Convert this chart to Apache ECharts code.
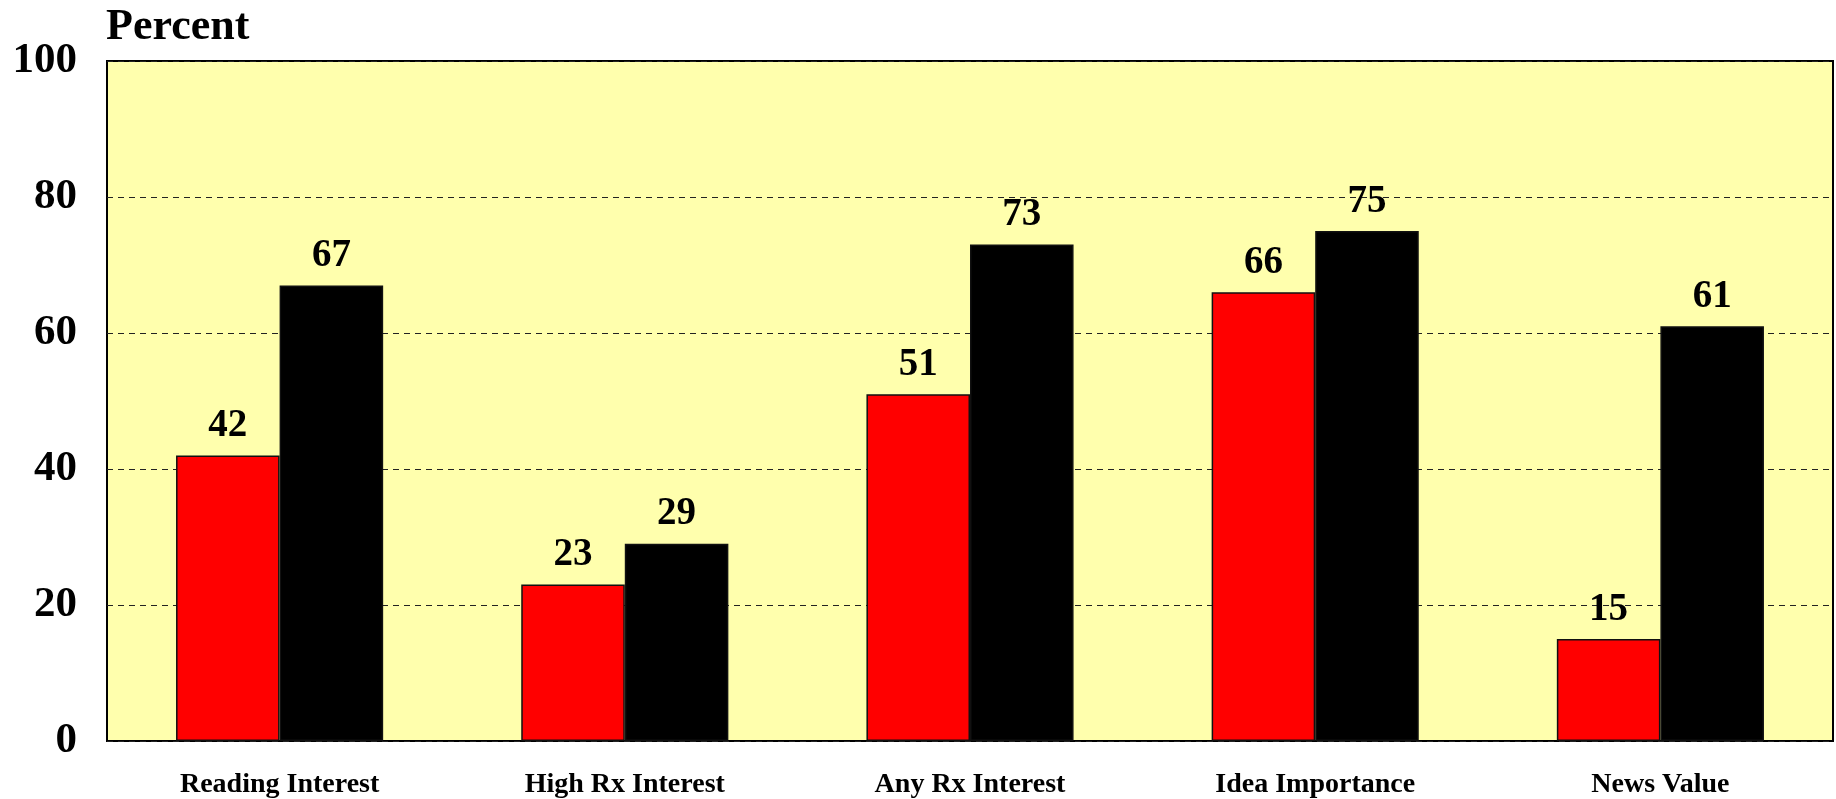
<!DOCTYPE html>
<html><head><meta charset="utf-8">
<script src="https://cdn.jsdelivr.net/npm/echarts@6/dist/echarts.min.js"></script>
<style>html,body{margin:0;padding:0;background:#fff}#c{width:1836px;height:799px}</style>
</head><body><div id="c"></div>
<script>
const categories = ['Reading Interest','High Rx Interest','Any Rx Interest','Idea Importance','News Value'];
const redValues = [42,23,51,66,15];
const blackValues = [67,29,73,75,61];
const yTicks = [0,20,40,60,80,100];

const font = '"Liberation Serif","Times New Roman",serif';
const chart = echarts.init(document.getElementById('c'));
const lbl = {show:true, position:'top', distance:10, color:'#000', fontFamily:font, fontWeight:'bold', fontSize:39};
chart.setOption({
  animation:false,
  title:{text:'Percent', left:101, top:1, textStyle:{fontFamily:font, fontWeight:'bold', fontSize:44, color:'#000'}},
  grid:{left:107, right:3, top:61, bottom:58, show:true, backgroundColor:'#FFFFAD', borderColor:'#000', borderWidth:2},
  xAxis:{type:'category', data:categories,
    axisLine:{show:false}, axisTick:{show:false},
    axisLabel:{color:'#000', fontFamily:font, fontWeight:'bold', fontSize:28, margin:30}},
  yAxis:{type:'value', min:0, max:100, interval:20,
    axisLine:{show:false}, axisTick:{show:false},
    splitLine:{show:true, lineStyle:{color:'#222', type:[6,5], width:1}},
    axisLabel:{color:'#000', fontFamily:font, fontWeight:'bold', fontSize:43, margin:30,
      formatter:v=> yTicks.includes(v)? String(v):''}},
  series:[
    {type:'bar', data:redValues, barGap:'0%', barCategoryGap:'40%',
      itemStyle:{color:'#FF0000', borderColor:'#111', borderWidth:1.5}, label:lbl},
    {type:'bar', data:blackValues,
      itemStyle:{color:'#000', borderColor:'#111', borderWidth:1.5}, label:lbl}
  ]
});
</script></body></html>
